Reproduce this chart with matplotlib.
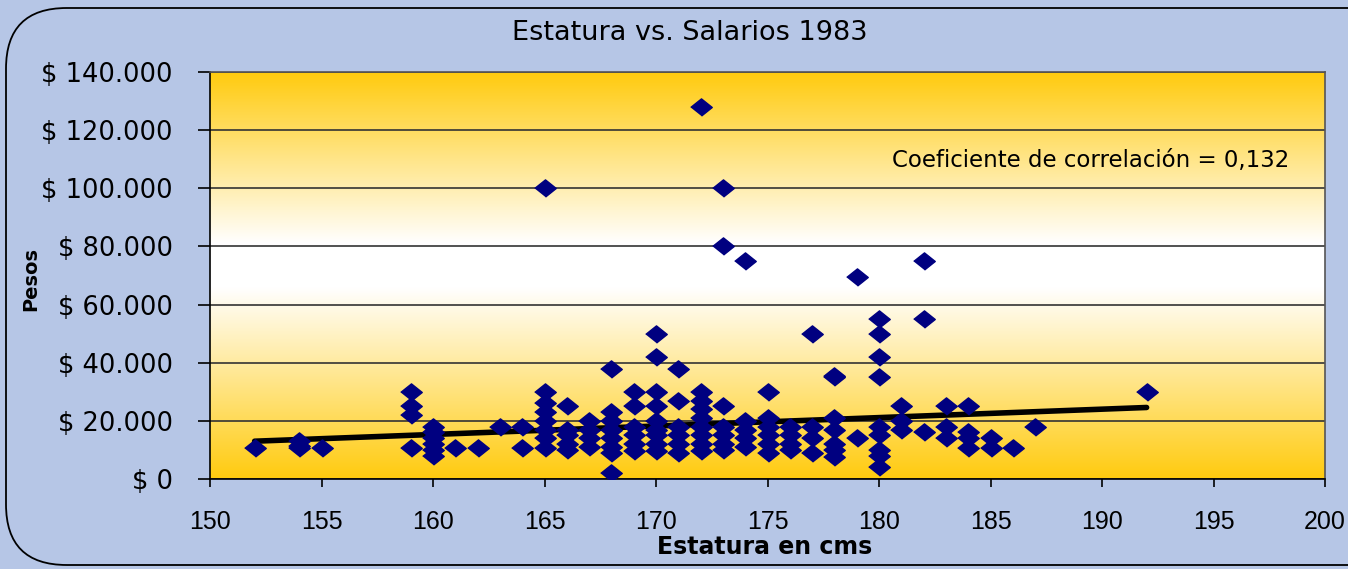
import numpy as np
import matplotlib
matplotlib.use("Agg")
import matplotlib.pyplot as plt
from matplotlib.colors import LinearSegmentedColormap
from matplotlib.patches import FancyBboxPatch
from matplotlib.ticker import FuncFormatter

# estatura (cm) -> salarios (miles de pesos)
estaturas = [152, 154, 155, 159, 160, 161, 162, 163, 164, 165, 166, 167, 168,
             169, 170, 171, 172, 173, 174, 175, 176, 177, 178, 179, 180, 181,
             182, 183, 184, 185, 186, 187, 192]
salarios = [
    [10.5],
    [13, 11.5, 10.5],
    [10.5],
    [30, 25, 22, 10.5],
    [18, 16, 14, 12, 10, 8],
    [10.5],
    [10.5],
    [18],
    [18, 10.5],
    [100, 30, 26, 23, 20, 17, 14, 10.5],
    [25, 17, 15, 12, 10],
    [20, 17, 14, 11],
    [38, 23, 20, 17, 14, 11, 9, 2],
    [30, 25, 18, 15, 12, 9.5],
    [50, 42, 30, 25, 20, 17, 15, 12, 9.5],
    [38, 27, 18, 15, 12, 9],
    [128, 30, 27, 24, 21, 18, 15, 12, 9.5],
    [100, 80, 25, 18, 15, 12, 10],
    [75, 20, 17, 14, 11],
    [30, 21, 18, 15, 12, 9],
    [18, 15, 12, 10],
    [50, 18, 14, 9],
    [35, 35.5, 21, 17, 12, 10, 7.5],
    [69.5, 14],
    [55, 50, 42, 35, 18, 15, 10, 8, 4],
    [25, 20, 17],
    [75, 55, 16],
    [25, 18, 14],
    [25, 16, 14, 10.5],
    [14, 10.5],
    [10.5],
    [18],
    [30],
]

# linea de tendencia
tendencia_x = [152, 192]
tendencia_y = [13000, 24600]

xs = []
ys = []
for h, lista in zip(estaturas, salarios):
    for s in lista:
        xs.append(h)
        ys.append(s * 1000)

plt.rcParams["ytick.major.pad"] = 18
plt.rcParams["xtick.major.pad"] = 16

fig = plt.figure(figsize=(13.48, 5.69), dpi=100)
fig.patch.set_facecolor("#B6C6E6")

marco = FancyBboxPatch((6 / 1348, 4 / 569), 1.2, (569 - 12) / 569,
                       boxstyle="round,pad=0,rounding_size=0.045",
                       transform=fig.transFigure, facecolor="none",
                       edgecolor="black", linewidth=1.3, mutation_aspect=2.37)
fig.patches.append(marco)

ax = fig.add_axes([210 / 1348, 1 - 479 / 569, (1325 - 210) / 1348, (479 - 72) / 569])

# fondo degradado dorado-blanco-dorado
cmap = LinearSegmentedColormap.from_list(
    "oro", [(0, "#FFCB0F"), (0.47, "#FFFFFF"), (0.58, "#FFFFFF"), (1, "#FFCB0F")])
grad = np.linspace(0, 1, 256).reshape(-1, 1)
ax.imshow(grad, extent=[150, 200, 0, 140000], origin="lower", aspect="auto",
          cmap=cmap, zorder=0)

ax.set_xlim(150, 200)
ax.set_ylim(0, 140000)
ax.set_yticks(np.arange(0, 140001, 20000))
ax.set_xticks(np.arange(150, 201, 5))
ax.yaxis.set_major_formatter(FuncFormatter(lambda v, p: "$ " + f"{int(v):,}".replace(",", ".")))
ax.grid(axis="y", color="#333333", linewidth=1.2, zorder=1)

ax.plot(tendencia_x, tendencia_y, color="black", linewidth=4, solid_capstyle="round", zorder=3)
diamante = [(-1, 0), (0, 0.8), (1, 0), (0, -0.8)]
ax.plot(xs, ys, linestyle="none", marker=diamante, markersize=15.5,
        color="#000080", zorder=4)

for s in ax.spines.values():
    s.set_color("#555555")
    s.set_linewidth(1.2)
ax.spines["left"].set_color("black")
ax.spines["bottom"].set_color("black")

ax.tick_params(axis="y", direction="out", length=9, width=1.2, colors="black")
ax.tick_params(axis="x", direction="out", length=6, width=1.2, colors="black")
for lab in ax.get_yticklabels():
    lab.set_fontfamily("DejaVu Sans")
    lab.set_fontsize(18.5)
for lab in ax.get_xticklabels():
    lab.set_fontfamily("Liberation Sans")
    lab.set_fontsize(18)

ax.text(198.4, 109500, "Coeficiente de correlación = 0,132", ha="right", va="center",
        fontsize=16.5, family="DejaVu Sans", zorder=5)

fig.text(690 / 1348, 1 - 33 / 569, "Estatura vs. Salarios 1983", ha="center", va="center",
         fontsize=19.5, family="DejaVu Sans")
fig.text(765 / 1348, 1 - 547 / 569, "Estatura en cms", ha="center", va="center",
         fontsize=17, fontweight="bold", family="DejaVu Sans")
fig.text(31 / 1348, 1 - 279 / 569, "Pesos", ha="center", va="center", rotation=90,
         fontsize=14, fontweight="bold", family="DejaVu Sans")

plt.savefig("out.png", dpi=100, facecolor=fig.get_facecolor())
